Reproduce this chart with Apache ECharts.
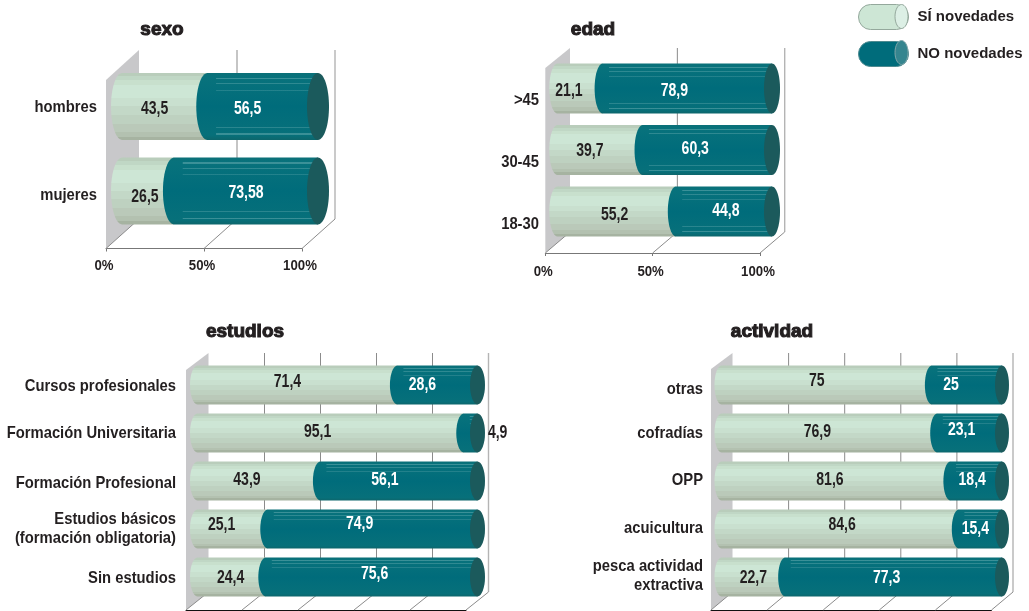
<!DOCTYPE html>
<html>
<head>
<meta charset="utf-8">
<style>html,body{margin:0;padding:0;background:#fff}#c{width:1029px;height:611px}</style>
<script src="https://cdn.jsdelivr.net/npm/echarts@6/dist/echarts.min.js"></script>
</head>
<body>
<div id="c"></div>
<script>
const sexoCategories = ['hombres', 'mujeres'];
const sexoSi = [43.5, 26.5];
const sexoNo = [56.5, 73.58];
const edadCategories = ['>45', '30-45', '18-30'];
const edadSi = [21.1, 39.7, 55.2];
const edadNo = [78.9, 60.3, 44.8];
const estudiosCategories = ['Cursos profesionales', 'Formación Universitaria', 'Formación Profesional', 'Estudios básicos\n(formación obligatoria)', 'Sin estudios'];
const estudiosSi = [71.4, 95.1, 43.9, 25.1, 24.4];
const estudiosNo = [28.6, 4.9, 56.1, 74.9, 75.6];
const actividadCategories = ['otras', 'cofradías', 'OPP', 'acuicultura', 'pesca actividad\nextractiva'];
const actividadSi = [75, 76.9, 81.6, 84.6, 22.7];
const actividadNo = [25, 23.1, 18.4, 15.4, 77.3];
const ticksTop = [0, 50, 100];
const ticksBottom = [0, 20, 40, 60, 80, 100];

const SI_NAME = 'SÍ novedades', NO_NAME = 'NO novedades';
const FONT = '"Liberation Sans",Arial,sans-serif';
const INK = '#231f20';

// Layout of each panel (pixels), separate from the data above.
const panels = [
  { title:'sexo', cats:sexoCategories, si:sexoSi, no:sexoNo, ticks:ticksTop, interval:50, titleX:162, titleY:30,
    x0:122, w:196, top:64.25, h:169, rx:11, ratio:.79,
    fdx:16, bdx:17, frontBottom:248.5, frontTop:80, backTop:50, backBottom:219,
    labTop:63, labH:176, labRight:97, showX:true, axisColor:'#777', xLabelDy:17.5,
    nudgeCat:[0,0],
    nudgeSi:[[-10,2.5],[-3,6]], nudgeNo:[[-15,2.5],[0,2]] },
  { title:'edad', cats:edadCategories, si:edadSi, no:edadNo, ticks:ticksTop, interval:50, titleX:593, titleY:30,
    x0:557.3, w:214.7, top:57.75, h:184.5, rx:8, ratio:.81,
    fdx:12, bdx:12.7, frontBottom:253, frontTop:68, backTop:48, backBottom:232,
    labTop:69, labH:186, labRight:539, showX:true, axisColor:'#777', xLabelDy:19,
    nudgeCat:[0,0,0],
    nudgeSi:[[-11,2.5],[-10,1],[-2,4]], nudgeNo:[[-13,2.5],[-12,-1],[2,0]] },
  { title:'estudios', cats:estudiosCategories, si:estudiosSi, no:estudiosNo, ticks:ticksBottom, interval:20, titleX:245, titleY:332,
    x0:197.5, w:280, top:361, h:240, rx:7.5, ratio:.81,
    fdx:11.5, bdx:11, frontBottom:610, frontTop:370, backTop:353, backBottom:592,
    labTop:362, labH:240, labRight:176, showX:false, axisColor:'#111', xLabelDy:0,
    nudgeCat:[0,-1,1,-1,0],
    nudgeSi:[[-10,-3],[-13,-1],[-12,-1],[-11,-4],[-1,1]], nudgeNo:[[-15,0],[27,0],[-14,-1],[-13,-5],[3,-3]] },
  { title:'actividad', cats:actividadCategories, si:actividadSi, no:actividadNo, ticks:ticksBottom, interval:20, titleX:772, titleY:332,
    x0:721.5, w:280.5, top:361, h:240, rx:7, ratio:.81,
    fdx:10.5, bdx:11, frontBottom:610, frontTop:369, backTop:353, backBottom:592,
    labTop:362, labH:237.5, labRight:703, showX:false, axisColor:'#111', xLabelDy:0,
    nudgeCat:[4,0,0,0,0],
    nudgeSi:[[-10,-4],[-12,-1],[-6,-1],[2,-4],[0,1]], nudgeNo:[[-16,0],[-8,-3],[-4,-1],[-5,0],[-7,1]] }
];

const LG = (stops) => new echarts.graphic.LinearGradient(0, 0, 0, 1, stops.map(s => ({offset:s[0], color:s[1]})));
const hard = (list) => { const o=[]; list.forEach((c,i)=>{ o.push([c[0],c[1]]); o.push([i+1<list.length?list[i+1][0]:1,c[1]]); }); return o; };
const siFill = () => LG(hard([[0,'#b9cdbb'],[.05,'#c0d7c5'],[.11,'#c8e0cd'],[.18,'#cde6d5'],[.38,'#c9e0cf'],[.5,'#c3d8c7'],[.62,'#bed1c0'],[.76,'#bac9b9'],[.88,'#b3c1b0'],[.95,'#a6b3a1']]));
const noFill = () => LG([[0,'#0b7078'],[.06,'#08727c'],[.5,'#006c7b'],[.93,'#07707a'],[1,'#0d666c']]);
const CLEAR = 'rgba(255,255,255,0)';
const noStripes = () => LG(hard([[0,CLEAR],[.07,'rgba(190,225,225,.28)'],[.09,CLEAR],[.15,'rgba(190,225,225,.22)'],[.17,CLEAR],[.25,'rgba(190,225,225,.16)'],[.265,CLEAR],[.8,'rgba(190,225,225,.2)'],[.82,CLEAR],[.9,'rgba(190,225,225,.28)'],[.92,CLEAR]]));

function capsule(xs, xe, yc, ry, rx) {
  const pts = [];
  const N = 24;
  for (let i = 0; i <= N; i++) {
    const a = -Math.PI/2 - Math.PI * i / N;
    pts.push([xs + rx * Math.cos(a), yc + ry * Math.sin(a)]);
  }
  pts.push([xe, yc + ry]);
  pts.push([xe, yc - ry]);
  return pts;
}
const narrowText = (text, x, y, color, size, scale, align) => ({ type:'text', z2:10, x:x, y:y, scaleX:scale,
  style:{ text:text, x:0, y:0, fill:color, align:align || 'center', verticalAlign:'middle', lineHeight:19, font:'bold ' + size + 'px ' + FONT } });

const grids = [], xAxes = [], yAxes = [], series = [], titles = [];

panels.forEach((p) => {
  const gBar = grids.length;
  grids.push({ left:p.x0, top:p.top, width:p.w, height:p.h, containLabel:false });
  xAxes.push({ gridIndex:gBar, type:'value', min:0, max:100, show:false });
  yAxes.push({ gridIndex:gBar, type:'category', inverse:true, data:p.cats, show:false });

  // front edge of the floor
  const gFront = grids.length;
  grids.push({ left:p.x0 - p.fdx, top:p.frontTop, width:p.w, height:p.frontBottom - p.frontTop });
  xAxes.push({ gridIndex:gFront, type:'value', min:0, max:100, interval:p.interval,
    axisLine:{ show:true, lineStyle:{ color:p.axisColor, width:1 } },
    axisTick:{ show:p.showX, length:3, lineStyle:{ color:p.axisColor } },
    splitLine:{ show:false }, axisLabel:{ show:false } });
  yAxes.push({ gridIndex:gFront, type:'category', data:p.cats, show:false });

  // category labels
  const gLab = grids.length;
  grids.push({ left:p.labRight, top:p.labTop, width:p.w, height:p.labH });
  xAxes.push({ gridIndex:gLab, type:'value', min:0, max:100, show:false });
  yAxes.push({ gridIndex:gLab, type:'category', inverse:true, data:p.cats, axisLine:{ show:false }, axisTick:{ show:false }, axisLabel:{ show:false } });
  series.push({
    type:'custom', xAxisIndex:gLab, yAxisIndex:gLab, silent:true, z:5, animation:false,
    data:p.cats.map((c, i) => [0, i]), encode:{ x:0, y:1 },
    renderItem(params, api) {
      const i = params.dataIndex;
      const [x, y] = api.coord([0, i]);
      return narrowText(p.cats[i], x, y + p.nudgeCat[i], INK, 17, .87, 'right');
    }
  });

  titles.push({ text:p.title, left:p.titleX, top:p.titleY, padding:0, textAlign:'center', textVerticalAlign:'middle',
    textStyle:{ color:INK, fontFamily:FONT, fontWeight:'bold', fontSize:19, textBorderColor:INK, textBorderWidth:1.1 } });

  series.push({
    type:'custom', xAxisIndex:gBar, yAxisIndex:gBar, silent:true, z:1, animation:false, legendHoverLink:false,
    data:p.ticks.map(t => [t, 0]), encode:{ x:0, y:1 },
    renderItem(params, api) {
      const v = api.value(0);
      const x = api.coord([v, 0])[0];
      const bx = x + p.bdx, fx = x - p.fdx;
      const kids = [];
      if (v === 0) {
        kids.push({ type:'polygon', shape:{ points:[[fx,p.frontTop],[bx,p.backTop],[bx,p.backBottom],[fx,p.frontBottom]] }, style:{ fill:'#c8c8ca' } });
      } else {
        const last = v === 100;
        kids.push({ type:'line', shape:{ x1:bx, y1:p.backTop, x2:bx, y2:p.backBottom }, style:{ stroke:last ? '#b4b4b4' : '#8b8b8b', lineWidth:last ? 1.4 : 1 } });
      }
      kids.push({ type:'line', shape:{ x1:bx, y1:p.backBottom, x2:fx, y2:p.frontBottom }, style:{ stroke:'#8b8b8b', lineWidth:1 } });
      if (p.showX) kids.push(narrowText(v + '%', fx - 2, p.frontBottom + p.xLabelDy, INK, 15, .88));
      return { type:'group', children:kids };
    }
  });

  const base = (name, values, build) => ({
    type:'custom', name, xAxisIndex:gBar, yAxisIndex:gBar, silent:true, animation:false,
    itemStyle:{ color: name === SI_NAME ? '#cde6d5' : '#006c7b' },
    data:values.map((val, i) => [val, i]), encode:{ x:0, y:1 }, renderItem:build
  });
  const fmt = v => String(v).replace('.', ',');

  series.push(Object.assign(base(SI_NAME, p.si, function (params, api) {
    const i = params.dataIndex, si = p.si[i];
    const [x0, yc] = api.coord([0, i]);
    const xe = api.coord([si, i])[0];
    const ry = api.size([0, 1])[1] * p.ratio / 2;
    const mid = api.coord([si / 2, i])[0];
    return { type:'group', children:[
      { type:'polygon', shape:{ points:capsule(x0, xe, yc, ry, p.rx) }, style:{ fill:siFill() } },
      narrowText(fmt(si), mid + p.nudgeSi[i][0], yc + p.nudgeSi[i][1], INK, 18, .78)
    ] };
  }), { z:2 }));

  series.push(Object.assign(base(NO_NAME, p.no, function (params, api) {
    const i = params.dataIndex, si = p.si[i], no = p.no[i];
    const yc = api.coord([0, i])[1];
    const xs = api.coord([si, i])[0], xe = api.coord([100, i])[0];
    const ry = api.size([0, 1])[1] * p.ratio / 2;
    const mid = api.coord([si + no / 2, i])[0];
    return { type:'group', children:[
      { type:'polygon', shape:{ points:capsule(xs, xe, yc, ry, p.rx) }, style:{ fill:noFill() } },
      { type:'rect', shape:{ x:xs + p.rx * .8, y:yc - ry, width:xe - xs - p.rx * .8, height:2 * ry }, style:{ fill:noStripes() } },
      { type:'ellipse', shape:{ cx:xe, cy:yc, rx:p.rx, ry:ry }, style:{ fill:'#1b5a5c' } },
      narrowText(fmt(no), mid + p.nudgeNo[i][0], yc + p.nudgeNo[i][1], no < 10 ? INK : '#ffffff', 18, .78)
    ] };
  }), { z:3 }));
});

const chart = echarts.init(document.getElementById('c'), null, { renderer:'canvas' });
chart.setOption({
  animation:false,
  backgroundColor:'#ffffff',
  title:titles,
  grid:grids, xAxis:xAxes, yAxis:yAxes, series:series,
  legend:{
    orient:'vertical', left:858, top:4, padding:0, itemWidth:50, itemHeight:25, itemGap:11,
    selectedMode:false,
    icon:'path://M12,0 H38 A12,12.5 0 0 1 38,25 H12 A12,12.5 0 0 1 12,0 Z',
    textStyle:{ color:INK, fontFamily:FONT, fontWeight:'bold', fontSize:15, padding:[0,0,0,4] },
    data:[
      { name:SI_NAME, itemStyle:{ color:'#cde6d5', borderColor:'#94a89c', borderWidth:1 } },
      { name:NO_NAME, itemStyle:{ color:'#006c7b', borderColor:'#4e8a90', borderWidth:1 } }
    ]
  },
  graphic:[
    { type:'ellipse', shape:{ cx:901.5, cy:16.5, rx:6.5, ry:12 }, style:{ fill:'#dcefe5', stroke:'#94a89c', lineWidth:1 }, z:100 },
    { type:'ellipse', shape:{ cx:901.5, cy:52.5, rx:6.5, ry:12 }, style:{ fill:'#35858f', stroke:'#7fa5a8', lineWidth:1 }, z:100 }
  ]
});
</script>
</body>
</html>
